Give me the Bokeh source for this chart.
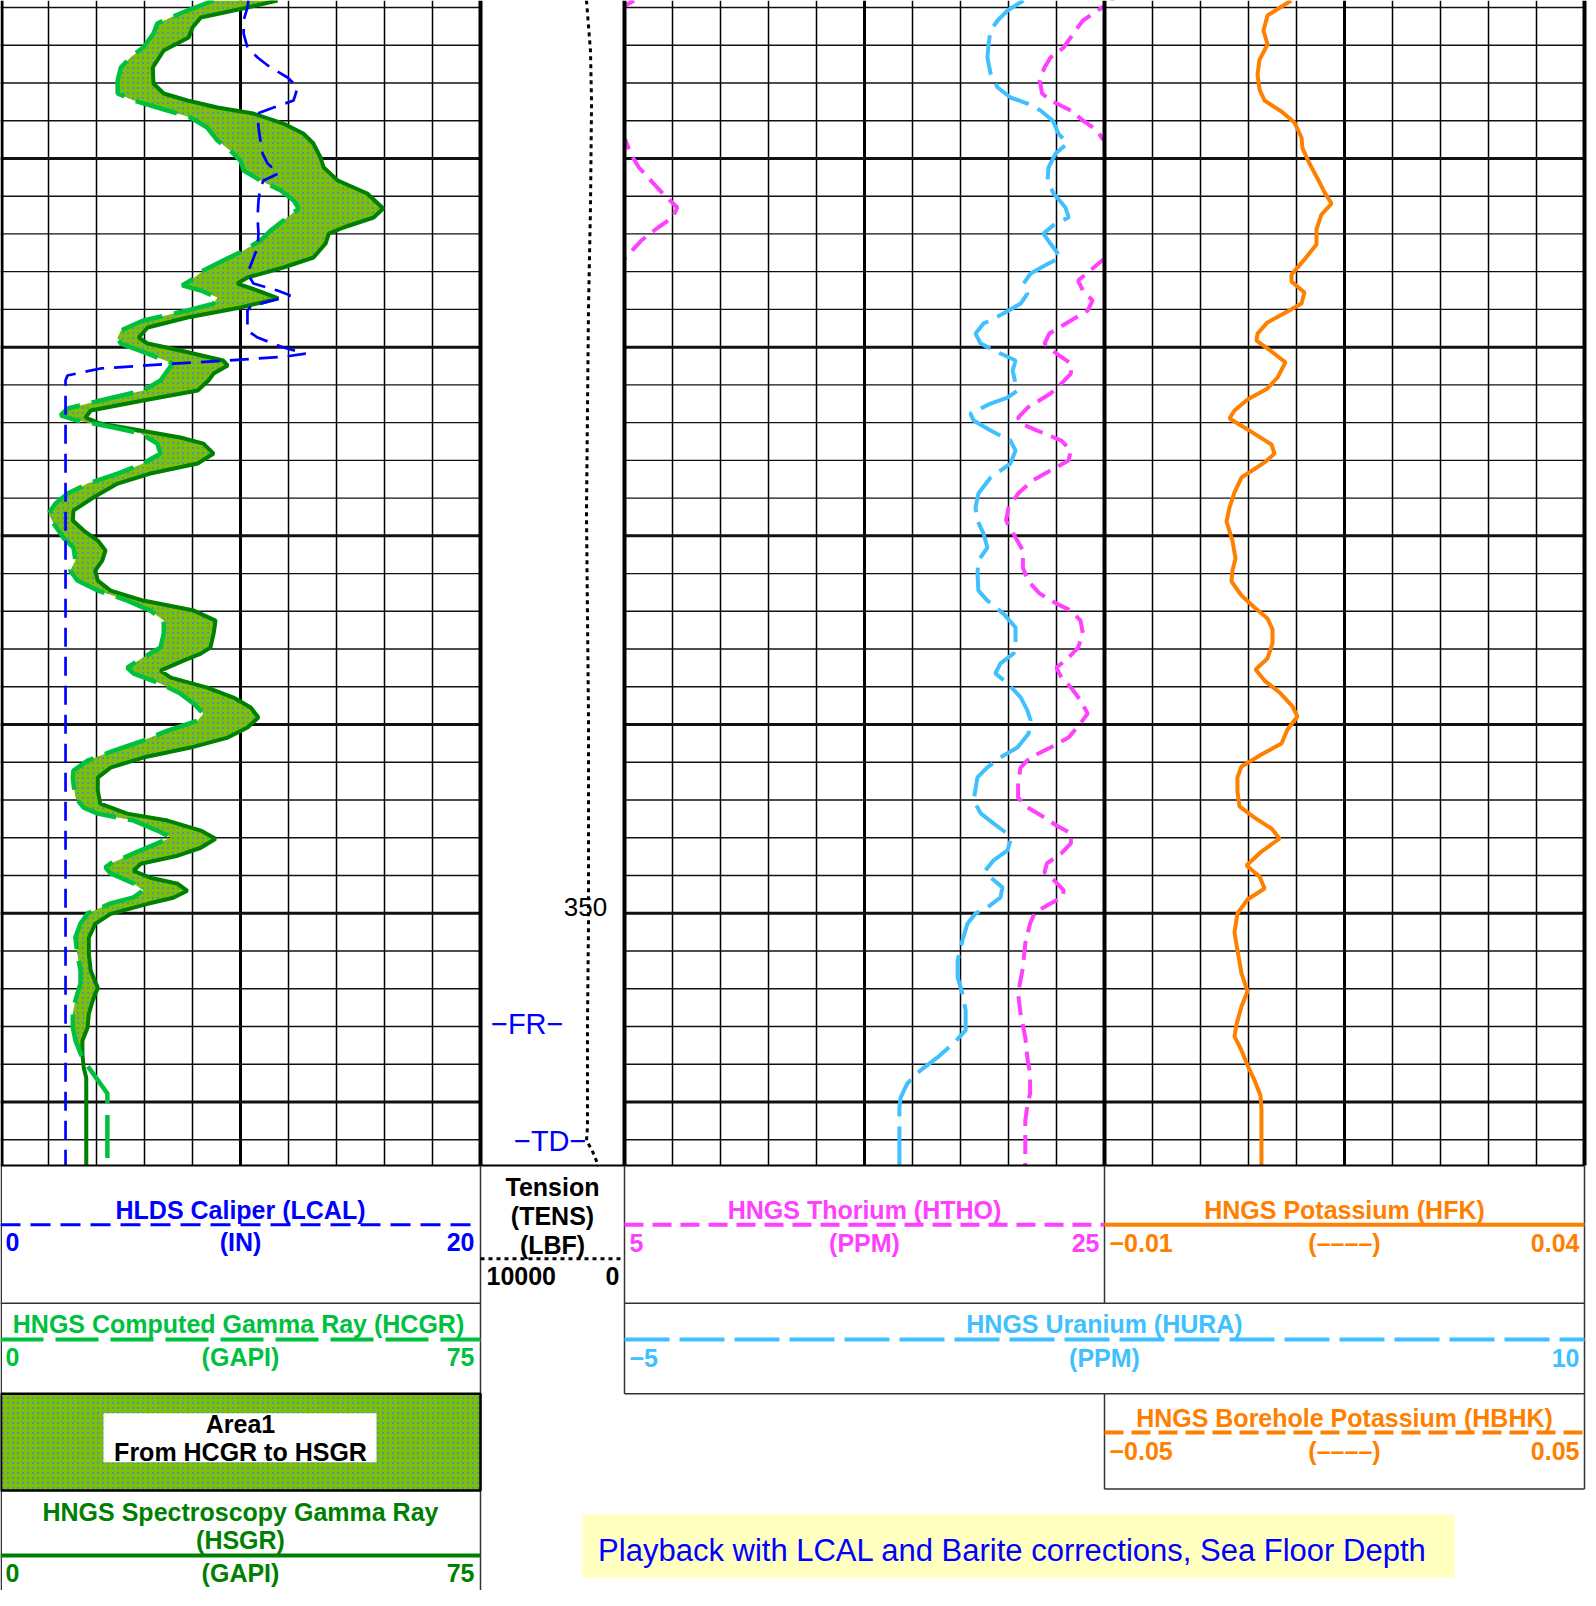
from bokeh.plotting import figure
from bokeh.models import Range1d
from bokeh.embed import file_html
from bokeh.resources import INLINE
from bokeh.core.properties import value

# ---------------- data: (depth m, value) ----------------
LCAL = [(301.63, 10.33), (302.0, 10.29), (302.69, 10.13), (303.38, 10.13), (304.12, 10.29), (304.65, 10.71),
        (305.18, 11.25), (305.71, 11.96), (306.24, 12.38), (306.93, 12.21), (307.30, 11.38), (307.62, 10.71),
        (308.36, 10.75), (309.05, 10.83), (309.74, 10.92), (310.27, 11.13), (310.80, 11.58), (311.17, 10.96),
        (311.54, 10.83), (312.23, 10.75), (313.13, 10.71), (313.98, 10.75), (314.72, 10.71), (315.41, 10.5),
        (316.10, 10.29), (316.63, 10.54), (317.0, 11.54), (317.26, 12.08), (317.85, 10.42), (318.06, 10.29),
        (319.12, 10.29), (319.49, 10.71), (320.02, 11.79), (320.34, 12.71), (320.50, 11.88), (320.71, 9.46),
        (320.87, 7.21), (321.13, 4.17), (321.50, 2.79), (321.77, 2.71), (363.4, 2.71)]

HCGR = [(301.63, 33.3), (302.16, 29.2), (302.53, 26.6), (302.85, 24.5), (303.38, 23.9), (304.12, 22.3),
        (304.65, 20.3), (305.18, 18.8), (305.87, 18.3), (306.56, 18.3), (306.93, 20.8), (307.46, 26.1),
        (307.83, 29.7), (308.36, 32.3), (309.05, 33.9), (309.58, 35.9), (310.11, 37.5), (310.64, 38.0),
        (311.17, 40.6), (311.70, 43.8), (312.23, 45.8), (312.65, 46.6), (313.13, 44.8), (313.82, 42.2),
        (314.35, 40.6), (314.88, 38.0), (315.41, 34.8), (315.94, 31.7), (316.47, 29.7), (316.73, 28.4),
        (317.0, 31.3), (317.37, 33.9), (317.69, 33.3), (318.06, 29.2), (318.59, 22.3), (319.12, 18.8),
        (319.49, 18.3), (319.81, 18.8), (320.34, 23.0), (320.87, 26.9), (321.24, 26.1), (321.77, 25.0),
        (322.30, 22.3), (322.83, 15.6), (323.25, 10.5), (323.62, 9.4), (323.89, 12.0), (324.26, 17.7),
        (324.58, 21.9), (325.11, 24.5), (325.64, 25.0), (326.17, 22.3), (326.70, 18.3), (327.23, 13.6),
        (327.76, 10.5), (328.29, 8.6), (328.82, 7.5), (329.35, 8.3), (330.09, 9.8), (330.62, 11.4),
        (331.31, 11.7), (331.84, 10.9), (332.37, 12.0), (332.90, 15.2), (333.43, 19.8), (333.96, 23.4),
        (334.49, 25.5), (335.18, 25.5), (335.92, 25.0), (336.45, 22.3), (336.98, 19.8), (337.30, 20.8),
        (337.83, 25.0), (338.36, 28.1), (338.89, 30.2), (339.42, 31.7), (339.79, 30.8), (340.32, 26.1),
        (340.85, 22.3), (341.38, 17.7), (341.91, 13.6), (342.44, 11.4), (342.81, 11.3), (343.12, 11.4),
        (343.87, 11.7), (344.40, 13.0), (344.72, 15.2), (345.09, 20.8), (345.62, 24.5), (345.98, 26.6),
        (346.30, 24.5), (346.83, 20.8), (347.36, 17.2), (347.57, 16.4), (347.89, 17.2), (348.42, 20.8),
        (348.79, 22.3), (349.16, 20.8), (349.48, 17.2), (350.01, 13.6), (350.54, 12.5), (351.28, 11.7),
        (352.13, 12.0), (353.03, 12.5), (353.72, 12.5), (354.62, 11.7), (355.30, 11.3), (356.05, 11.3),
        (356.74, 11.7), (357.43, 12.5), (357.80, 13.0), (358.33, 14.1), (359.55, 16.7), (363.4, 16.7)]

HSGR = [(301.63, 43.3), (302.0, 38.6), (302.53, 31.3), (303.06, 30.0), (303.59, 29.4), (304.28, 25.5),
        (305.18, 23.8), (306.03, 23.9), (306.56, 25.5), (306.93, 29.2), (307.30, 33.9), (307.62, 39.5),
        (308.15, 44.2), (308.68, 47.3), (309.21, 48.9), (309.95, 50.0), (310.48, 50.5), (311.17, 52.7),
        (311.86, 57.3), (312.65, 59.8), (313.13, 58.3), (313.66, 53.6), (313.98, 51.3), (314.51, 50.8),
        (315.25, 48.9), (315.78, 44.2), (316.31, 38.6), (316.63, 37.0), (317.0, 40.2), (317.42, 43.4),
        (317.90, 37.5), (318.43, 29.2), (318.96, 23.0), (319.49, 21.6), (319.81, 23.0), (320.18, 28.1),
        (320.71, 34.8), (320.97, 35.5), (321.40, 33.3), (321.77, 32.5), (322.30, 30.8), (322.83, 22.3),
        (323.36, 14.1), (323.73, 13.3), (324.05, 15.6), (324.42, 21.9), (324.79, 28.1), (325.11, 31.7),
        (325.64, 33.3), (326.17, 30.8), (326.70, 23.4), (327.23, 18.3), (327.97, 14.5), (328.66, 11.4),
        (329.19, 11.3), (329.72, 13.0), (330.25, 15.2), (330.78, 16.4), (331.31, 15.9), (331.84, 14.8),
        (332.37, 15.2), (332.90, 17.2), (333.43, 22.3), (333.96, 30.2), (334.49, 33.6), (335.18, 33.3),
        (335.92, 32.8), (336.24, 31.3), (336.61, 28.6), (337.14, 25.0), (337.51, 26.6), (338.04, 32.3),
        (338.57, 36.4), (339.10, 39.1), (339.63, 40.3), (340.16, 38.6), (340.69, 35.5), (341.22, 29.7),
        (341.75, 22.3), (342.28, 17.2), (342.81, 15.2), (343.50, 15.2), (344.19, 15.6), (344.72, 19.8),
        (345.09, 26.1), (345.62, 31.3), (346.05, 33.6), (346.53, 31.3), (346.95, 27.7), (347.38, 21.9),
        (347.75, 20.8), (348.12, 23.4), (348.44, 27.7), (348.81, 29.2), (349.18, 27.0), (349.50, 23.0),
        (350.03, 17.2), (350.56, 14.8), (351.30, 13.8), (352.15, 13.8), (353.05, 14.1), (353.95, 15.2),
        (354.64, 14.4), (355.33, 13.8), (356.07, 13.6), (356.76, 12.8), (357.45, 12.8), (358.19, 13.0),
        (358.72, 13.4), (363.4, 13.4)]

AREA_BOTTOM = 357.8   # HCGR-HSGR fill stops here

TENS = [(301.63, 2640), (304.33, 2360), (307.04, 2290), (312.49, 2360), (317.90, 2500), (323.36, 2570),
        (328.76, 2640), (334.22, 2570), (339.63, 2500), (345.09, 2500), (350.49, 2500), (355.89, 2570),
        (361.35, 2570), (362.04, 2640), (362.57, 2250), (363.4, 1800)]

HTHO = [(301.63, 25.4), (302.0, 24.9), (302.69, 24.1), (303.38, 23.7), (304.12, 23.3), (304.65, 22.75),
        (305.18, 22.5), (305.87, 22.3), (306.56, 22.4), (306.93, 22.75), (307.46, 23.6), (307.99, 24.1),
        (308.52, 24.7), (308.94, 24.9), (309.05, 25.05), (309.74, 25.25), (310.48, 25.6), (311.17, 26.1),
        (311.86, 26.6), (312.60, 27.2), (313.13, 27.0), (313.66, 26.4), (314.35, 25.7), (315.25, 25.05),
        (315.41, 24.9), (315.94, 24.4), (316.47, 23.9), (317.0, 24.1), (317.53, 24.5), (318.06, 24.3),
        (318.59, 23.6), (319.28, 22.7), (319.81, 22.5), (320.34, 23.0), (320.87, 23.6), (321.40, 23.6),
        (321.93, 23.2), (322.46, 22.75), (323.20, 21.8), (323.73, 21.4), (324.05, 21.5), (324.42, 22.2),
        (324.95, 23.2), (325.48, 23.6), (326.01, 23.5), (326.54, 22.75), (327.07, 22.0), (327.76, 21.4),
        (328.50, 21.0), (329.19, 20.9), (329.88, 21.2), (330.78, 21.6), (331.68, 21.6), (332.37, 21.8),
        (333.06, 22.3), (333.59, 23.0), (333.96, 23.6), (334.49, 24.0), (335.18, 24.1), (335.92, 23.9),
        (336.45, 23.5), (336.98, 23.0), (337.51, 23.2), (338.04, 23.6), (338.72, 24.0), (339.42, 24.3),
        (339.94, 24.0), (340.69, 23.5), (341.22, 22.75), (341.75, 21.9), (342.28, 21.5), (343.12, 21.4),
        (343.87, 21.4), (344.40, 21.8), (344.93, 22.5), (345.35, 23.0), (345.77, 23.6), (346.30, 23.6),
        (346.83, 23.2), (347.36, 22.6), (347.84, 22.5), (348.26, 22.9), (348.79, 23.3), (349.16, 23.25),
        (349.48, 22.75), (349.96, 22.1), (350.54, 21.9), (351.60, 21.7), (352.87, 21.6), (354.25, 21.4),
        (355.31, 21.5), (356.58, 21.7), (357.80, 21.8), (358.49, 21.9), (359.55, 21.9), (360.08, 21.8),
        (360.98, 21.7), (363.4, 21.7)]

HURA = [(301.63, 7.47), (302.16, 6.97), (302.69, 6.66), (303.22, 6.44), (303.91, 6.38), (304.65, 6.34),
        (305.50, 6.44), (306.24, 6.66), (306.77, 7.06), (307.09, 7.59), (307.46, 8.0), (307.99, 8.38),
        (308.68, 8.56), (309.21, 8.84), (309.74, 8.47), (310.48, 8.25), (311.17, 8.22), (311.86, 8.41),
        (312.60, 8.78), (313.13, 8.88), (313.45, 8.47), (313.98, 8.09), (314.51, 8.31), (315.25, 8.63),
        (315.57, 8.25), (316.10, 7.69), (316.63, 7.47), (317.16, 7.59), (317.69, 7.38), (318.22, 6.84),
        (318.75, 6.22), (319.28, 5.97), (319.81, 6.13), (320.34, 6.75), (320.71, 7.22), (321.24, 7.13),
        (321.93, 7.22), (322.30, 7.28), (322.67, 6.97), (322.99, 6.44), (323.52, 5.81), (323.89, 5.91),
        (324.42, 6.44), (324.95, 7.06), (325.48, 7.22), (326.17, 7.06), (326.91, 6.44), (327.76, 6.06),
        (328.50, 5.97), (329.19, 6.03), (329.88, 6.22), (330.62, 6.34), (331.31, 6.06), (332.0, 6.03),
        (332.90, 6.06), (333.43, 6.34), (334.12, 6.84), (334.86, 7.22), (335.70, 7.22), (336.23, 7.16),
        (336.76, 6.75), (337.29, 6.59), (337.82, 6.97), (338.56, 7.38), (339.25, 7.59), (339.78, 7.69),
        (340.47, 7.63), (341.21, 7.28), (341.74, 6.75), (342.27, 6.34), (342.80, 6.03), (344.02, 5.91),
        (344.71, 6.13), (345.24, 6.53), (345.72, 6.91), (346.14, 7.06), (346.67, 6.97), (347.20, 6.53),
        (347.73, 6.28), (348.10, 6.44), (348.63, 6.81), (349.16, 6.75), (349.69, 6.34), (350.01, 5.97),
        (350.54, 5.72), (351.44, 5.56), (352.50, 5.41), (353.40, 5.41), (354.25, 5.56), (355.15, 5.66),
        (356.21, 5.66), (356.90, 5.28), (357.64, 4.78), (358.33, 4.25), (359.02, 3.84), (359.76, 3.63),
        (360.29, 3.59), (363.4, 3.59)]

HFK = [(301.63, 0.00945), (302.42, 0.00698), (303.22, 0.00656), (303.96, 0.00698), (304.76, 0.00615),
       (305.55, 0.00594), (306.35, 0.00615), (306.93, 0.00667), (307.51, 0.00844), (308.10, 0.00979),
       (308.89, 0.01052), (309.47, 0.01063), (310.27, 0.01135), (311.06, 0.01219), (311.80, 0.01292),
       (312.39, 0.01365), (312.97, 0.0126), (313.76, 0.01208), (314.56, 0.01208), (315.35, 0.01083),
       (316.15, 0.00948), (316.52, 0.00948), (317.10, 0.01083), (317.69, 0.01052), (318.11, 0.00906),
       (318.69, 0.00698), (319.28, 0.00594), (319.65, 0.00583), (320.23, 0.0074), (320.81, 0.00885),
       (321.61, 0.00802), (322.19, 0.00698), (322.77, 0.0049), (323.36, 0.00354), (323.78, 0.00302),
       (324.36, 0.0049), (325.16, 0.0074), (325.64, 0.00771), (326.11, 0.00667), (326.91, 0.00427),
       (327.70, 0.00354), (328.50, 0.00302), (329.24, 0.00271), (330.25, 0.00333), (331.20, 0.00365),
       (331.84, 0.00333), (332.42, 0.00323), (333.16, 0.00427), (333.80, 0.00563), (334.38, 0.00698),
       (334.96, 0.0075), (335.70, 0.0075), (336.50, 0.00698), (337.08, 0.00573), (337.67, 0.00667),
       (338.30, 0.00823), (339.04, 0.00958), (339.57, 0.0101), (340.26, 0.00906), (341.0, 0.00844),
       (341.59, 0.00635), (342.22, 0.00427), (342.80, 0.00385), (343.55, 0.00385), (344.34, 0.00406),
       (344.93, 0.00563), (345.51, 0.0074), (346.04, 0.00823), (346.73, 0.00635), (347.47, 0.00479),
       (348.05, 0.00615), (348.69, 0.00667), (349.27, 0.0049), (350.01, 0.00385), (351.02, 0.00354),
       (351.97, 0.00385), (353.19, 0.00427), (354.14, 0.0049), (354.94, 0.00427), (355.89, 0.00375),
       (356.53, 0.00354), (357.27, 0.00427), (358.06, 0.0049), (358.86, 0.00563), (359.66, 0.00625),
       (360.40, 0.00635), (363.4, 0.00635)]

GRID_DEPTHS = list(range(302, 363, 2))
DEPTH_LABELS = [350]
MARKERS = [("\u2212FR\u2212", 355.85), ("\u2212TD\u2212", 362.05)]


def cols(pairs):
    return [d for d, v in pairs], [v for d, v in pairs]


# ---------------- layout constants (pixels) ----------------
W, H = 1588, 1590
LOG_BOTTOM = 1165
PX_PER_M = 18.87
DEPTH_TOP = 301.63
T1, TDP, T2, T3 = (0, 480), (480, 624), (624, 1104), (1104, 1584)

BLUE = "#0000ff"
GREEN_L = "#00c040"
GREEN_D = "#008000"
MAGENTA = "#ff40ff"
CYAN = "#40c0ff"
ORANGE = "#ff8000"
AREA_GREEN = "#80c000"
HATCH = "#3a8fd0"
FONT = value("Liberation Sans")

p = figure(width=W, height=H, x_range=Range1d(0, W), y_range=Range1d(H, 0),
           x_axis_type=None, y_axis_type=None, output_backend="svg",
           toolbar_location=None, min_border=0, title=None)
p.outline_line_color = None


def curve_range(v0, v1, x0, x1):
    k = (v1 - v0) / (x1 - x0)
    return Range1d(v0 - x0 * k, v0 + (W - x0) * k)


p.extra_x_ranges = {
    "lcal": curve_range(0, 20, *T1),
    "gr": curve_range(0, 75, *T1),
    "tens": curve_range(10000, 0, *TDP),
    "htho": curve_range(5, 25, *T2),
    "htho_wrap": curve_range(25, 45, *T2),
    "hura": curve_range(-5, 10, *T2),
    "hfk": curve_range(-0.01, 0.04, *T3),
}
p.extra_y_ranges = {"depth": Range1d(DEPTH_TOP + H / PX_PER_M, DEPTH_TOP)}


def track_grid(track):
    x0, x1 = track
    xs = [x0 + 48 * i for i in range(1, 10)]
    p.segment(x0=xs, y0=[0] * 9, x1=xs, y1=[LOG_BOTTOM] * 9, line_color="black",
              line_width=[3 if i == 5 else 1.5 for i in range(1, 10)])
    n = len(GRID_DEPTHS)
    p.segment(x0=[x0] * n, x1=[x1] * n, y0=GRID_DEPTHS, y1=GRID_DEPTHS, y_range_name="depth",
              line_color="#111111", line_width=[3 if d % 10 == 0 else 1.4 for d in GRID_DEPTHS])


# track 2 grid + thorium (with wrap-around), then masks
track_grid(T2)
d, v = cols(HTHO)
p.line(v, d, x_range_name="htho", y_range_name="depth", line_color=MAGENTA, line_width=4, line_dash="19 9")
p.line(v, d, x_range_name="htho_wrap", y_range_name="depth", line_color=MAGENTA, line_width=4, line_dash="19 9")
p.quad(left=[0, T2[1]], right=[T2[0], W], top=[0, 0], bottom=[LOG_BOTTOM, LOG_BOTTOM],
       fill_color="white", line_color=None)

track_grid(T1)
track_grid(T3)

# gamma-ray area
dc, vc = cols(HCGR)
ds, vs = cols(HSGR)
ax = [x for dd, x in HCGR if dd <= AREA_BOTTOM] + [x for dd, x in reversed(HSGR) if dd <= AREA_BOTTOM]
ay = [dd for dd, x in HCGR if dd <= AREA_BOTTOM] + [dd for dd, x in reversed(HSGR) if dd <= AREA_BOTTOM]
p.patch(ax, ay, x_range_name="gr", y_range_name="depth", fill_color=AREA_GREEN, line_color=None,
        hatch_pattern="dot", hatch_color=HATCH, hatch_scale=5, hatch_weight=1, hatch_alpha=0.8)
p.line(vs, ds, x_range_name="gr", y_range_name="depth", line_color=GREEN_D, line_width=4)
p.line(vc, dc, x_range_name="gr", y_range_name="depth", line_color=GREEN_L, line_width=4.5, line_dash="43 12")
d, v = cols(LCAL)
p.line(v, d, x_range_name="lcal", y_range_name="depth", line_color=BLUE, line_width=2.7, line_dash="19 10")

# tension
d, v = cols(TENS)
p.line(v, d, x_range_name="tens", y_range_name="depth", line_color="black", line_width=3, line_dash="4 4")

# uranium, potassium
d, v = cols(HURA)
p.line(v, d, x_range_name="hura", y_range_name="depth", line_color=CYAN, line_width=4, line_dash="40 10")
d, v = cols(HFK)
p.line(v, d, x_range_name="hfk", y_range_name="depth", line_color=ORANGE, line_width=4)

# track borders
bx = [1.5, 480, 624, 1104, 1584]
p.segment(x0=bx, y0=[0] * 5, x1=bx, y1=[LOG_BOTTOM] * 5, line_color="black",
          line_width=[3, 4, 4, 4, 4])


def label(x, y, txt, color, size=25, bold=True, align="center", **kw):
    p.text(x=[x], y=[y], text=[txt], text_color=color, text_font=FONT, text_font_size=f"{size}px",
           text_font_style="bold" if bold else "normal", text_align=align, text_baseline="middle", **kw)


# depth track texts
for dl in DEPTH_LABELS:
    p.text(x=[585], y=[dl], text=[str(dl)], y_range_name="depth", y_offset=-6, text_color="black",
           text_font=FONT, text_font_size="26px", text_align="center", text_baseline="middle")
mk_x = [563, 586]
for (txt, dep), xx in zip(MARKERS, mk_x):
    p.text(x=[xx], y=[dep], text=[txt], y_range_name="depth", text_color=BLUE, text_font=FONT,
           text_font_size="29px", text_align="right", text_baseline="middle")

# ---------------- header ----------------
HL = "#333333"
# horizontal separators
p.segment(x0=[0], y0=[LOG_BOTTOM], x1=[1584], y1=[LOG_BOTTOM], line_color="black", line_width=2)
p.segment(x0=[0, 624, 624, 1104], y0=[1302.7, 1302.7, 1393.3, 1488.5],
          x1=[480, 1584, 1584, 1584], y1=[1302.7, 1302.7, 1393.3, 1488.5], line_color=HL, line_width=1.5)
# verticals
p.segment(x0=[0.75, 480, 624, 1104, 1104, 1584], y0=[1165, 1165, 1165, 1165, 1393.3, 1165],
          x1=[0.75, 480, 624, 1104, 1104, 1584], y1=[1606, 1606, 1393.3, 1302.7, 1488.5, 1488.5],
          line_color=HL, line_width=1.5)
# Area box
p.quad(left=[0.5], right=[480], top=[1393.3], bottom=[1490], fill_color=AREA_GREEN, line_color="black",
       line_width=2.5, hatch_pattern="dot", hatch_color=HATCH, hatch_scale=5, hatch_weight=1, hatch_alpha=0.8)
p.quad(left=[103], right=[376], top=[1412.7], bottom=[1461.7], fill_color="white", line_color=None)
label(240, 1423.5, "Area1", "black")
label(240, 1451.5, "From HCGR to HSGR", "black")

# legend lines
p.line([0, 480], [1224.3, 1224.3], line_color=BLUE, line_width=3, line_dash="20 10")
p.line([0, 480], [1339, 1339], line_color=GREEN_L, line_width=4, line_dash="43 12")
p.line([0, 480], [1555, 1555], line_color=GREEN_D, line_width=4)
p.line([480, 624], [1258.3, 1258.3], line_color="black", line_width=3, line_dash="4 4")
p.line([624, 1104], [1224.3, 1224.3], line_color=MAGENTA, line_width=4, line_dash="19 9")
p.line([1104, 1584], [1224.3, 1224.3], line_color=ORANGE, line_width=4)
p.line([624, 1584], [1339, 1339], line_color=CYAN, line_width=4, line_dash="45 10")
p.line([1104, 1584], [1432, 1432], line_color=ORANGE, line_width=4, line_dash="19 8")

# track 1 headers
label(240, 1209.5, "HLDS Caliper (LCAL)", BLUE)
label(5, 1241.7, "0", BLUE, align="left")
label(240, 1241.7, "(IN)", BLUE)
label(474, 1241.7, "20", BLUE, align="right")
label(238, 1323.3, "HNGS Computed Gamma Ray (HCGR)", GREEN_L)
label(5, 1356.7, "0", GREEN_L, align="left")
label(240, 1356.7, "(GAPI)", GREEN_L)
label(474, 1356.7, "75", GREEN_L, align="right")
label(240, 1511.7, "HNGS Spectroscopy Gamma Ray", GREEN_D)
label(240, 1539.5, "(HSGR)", GREEN_D)
label(5, 1572, "0", GREEN_D, align="left")
label(240, 1572, "(GAPI)", GREEN_D)
label(474, 1572, "75", GREEN_D, align="right")

# tension header
label(552, 1186, "Tension", "black")
label(552, 1215.5, "(TENS)", "black")
label(552, 1244.3, "(LBF)", "black")
label(486, 1275, "10000", "black", align="left")
label(619, 1275, "0", "black", align="right")

# track 2/3 headers
label(864, 1209, "HNGS Thorium (HTHO)", MAGENTA)
label(629, 1242.6, "5", MAGENTA, align="left")
label(864, 1242.6, "(PPM)", MAGENTA)
label(1099, 1242.6, "25", MAGENTA, align="right")
label(1344, 1209, "HNGS Potassium (HFK)", ORANGE)
label(1109, 1242.6, "\u22120.01", ORANGE, align="left")
label(1344, 1242.6, "(\u2013\u2013\u2013\u2013)", ORANGE)
label(1579, 1242.6, "0.04", ORANGE, align="right")
label(1104, 1323.5, "HNGS Uranium (HURA)", CYAN)
label(629, 1357.3, "\u22125", CYAN, align="left")
label(1104, 1357.3, "(PPM)", CYAN)
label(1579, 1357.3, "10", CYAN, align="right")
label(1344, 1417.8, "HNGS Borehole Potassium (HBHK)", ORANGE)
label(1109, 1450.6, "\u22120.05", ORANGE, align="left")
label(1344, 1450.6, "(\u2013\u2013\u2013\u2013)", ORANGE)
label(1579, 1450.6, "0.05", ORANGE, align="right")

# playback note
p.quad(left=[582], right=[1454], top=[1514], bottom=[1577], fill_color="#ffffc0", line_color=None)
label(1012, 1550, "Playback with LCAL and Barite corrections, Sea Floor Depth", BLUE, size=31, bold=False)

open("out.html", "w").write(file_html(p, INLINE))
